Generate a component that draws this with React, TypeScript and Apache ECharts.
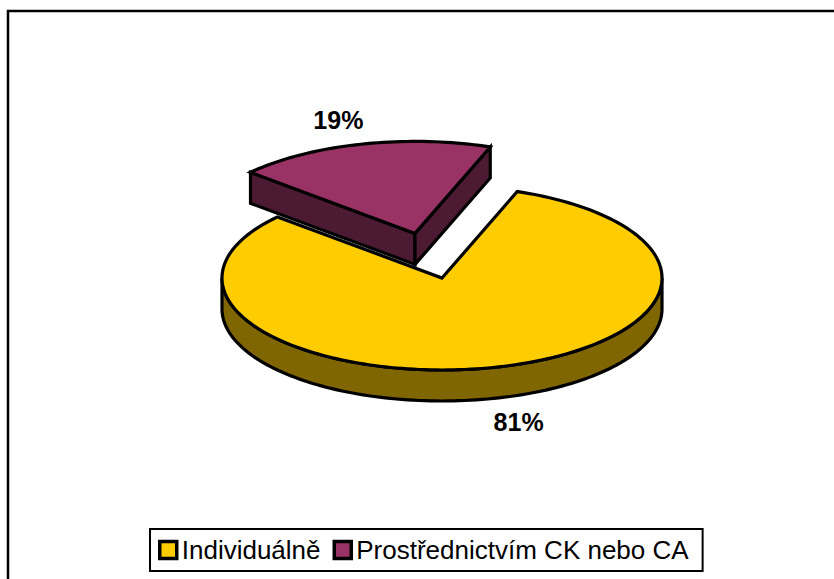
import React, { useEffect, useRef } from "react";
import * as echarts from "echarts";

const categories = ["Individuálně", "Prostřednictvím CK nebo CA"];
const values = [81, 19];
const topColors = ["#FFCC00", "#993366"];
const sideColors = ["#806600", "#4D1A33"];
const explode = [0, 0.5];

const CX = 442;
const CY = 278;
const RX = 220;
const RY = 92;
const DEPTH = 31;
const START_DEG = 70;
const FONT = '"Liberation Sans", Arial, sans-serif';

const rad = (d: number) => (d * Math.PI) / 180;

function buildSlice(i: number) {
  const total = values.reduce((a, b) => a + b, 0);
  let cum = 0;
  for (let k = 0; k < i; k++) cum += values[k];
  const a0 = START_DEG - (cum / total) * 360;
  const a1 = START_DEG - ((cum + values[i]) / total) * 360;
  const m = (a0 + a1) / 2;
  const ox = CX + explode[i] * RX * Math.cos(rad(m));
  const oy = CY - explode[i] * RY * Math.sin(rad(m));
  const P = (deg: number, dz: number) => [
    ox + RX * Math.cos(rad(deg)),
    oy - RY * Math.sin(rad(deg)) + dz,
  ];
  const arc = (from: number, to: number, dz: number) => {
    const n = Math.max(2, Math.ceil(Math.abs(to - from) / 1.5));
    const pts: number[][] = [];
    for (let s = 0; s <= n; s++) pts.push(P(from + ((to - from) * s) / n, dz));
    return pts;
  };
  const stroke = { stroke: "#000", lineWidth: 3.2, lineJoin: "miter" };
  const children: any[] = [];
  // radial faces
  if (Math.cos(rad(a0)) < 0) {
    children.push({
      type: "polygon",
      shape: { points: [[ox, oy], P(a0, 0), P(a0, DEPTH), [ox, oy + DEPTH]] },
      style: { fill: sideColors[i], ...stroke },
    });
  }
  if (Math.cos(rad(a1)) > 0) {
    children.push({
      type: "polygon",
      shape: { points: [[ox, oy], P(a1, 0), P(a1, DEPTH), [ox, oy + DEPTH]] },
      style: { fill: sideColors[i], ...stroke },
    });
  }
  // outer wall (front half)
  for (let k = -3; k <= 3; k++) {
    const lo = Math.max(a1, 180 + 360 * k);
    const hi = Math.min(a0, 360 + 360 * k);
    if (lo < hi) {
      const pts = arc(lo, hi, 0).concat(arc(hi, lo, DEPTH));
      children.push({
        type: "polygon",
        shape: { points: pts },
        style: { fill: sideColors[i], ...stroke },
      });
    }
  }
  // top face
  children.push({
    type: "polygon",
    shape: { points: [[ox, oy]].concat(arc(a0, a1, 0)) },
    style: { fill: topColors[i], ...stroke },
  });
  // label
  const sm = Math.sin(rad(m));
  const lx = ox + RX * 1.42 * Math.cos(rad(m));
  const ly = oy - RY * 1.27 * sm + (sm < 0 ? DEPTH : 0);
  children.push({
    type: "text",
    style: {
      x: lx,
      y: ly,
      text: Math.round((values[i] / total) * 100) + "%",
      font: "bold 25px " + FONT,
      fill: "#000",
      align: "center",
      verticalAlign: "middle",
    },
  });
  return { type: "group", children };
}

export default function App() {
  const ref = useRef<HTMLDivElement>(null);
  useEffect(() => {
    if (!ref.current) return;
    const chart = echarts.init(ref.current, null, { renderer: "svg" });
    const drawOrder = [1, 0];
    chart.setOption({
      animation: false,
      backgroundColor: "#fff",
      graphic: [
        {
          type: "rect",
          silent: true,
          shape: { x: 8, y: 11, width: 900, height: 700 },
          style: { fill: "none", stroke: "#000", lineWidth: 2.5 },
        },
      ],
      legend: {
        data: categories,
        left: 150,
        top: 529,
        orient: "horizontal",
        borderColor: "#000",
        borderWidth: 2,
        borderRadius: 0,
        padding: [8, 14, 8, 8],
        itemGap: 12,
        itemWidth: 17,
        itemHeight: 17,
        icon: "rect",
        itemStyle: { borderColor: "#000", borderWidth: 3.5 },
        textStyle: { fontSize: 26, color: "#000", fontFamily: FONT },
        selectedMode: false,
      },
      series: drawOrder.map((i, z) => ({
        type: "custom",
        name: categories[i],
        coordinateSystem: "none",
        z: 2 + z,
        silent: true,
        itemStyle: { color: topColors[i] },
        data: [values[i]],
        renderItem: () => buildSlice(i),
      })),
    });
    return () => chart.dispose();
  }, []);
  return (
    <div
      ref={ref}
      style={{ position: "absolute", left: 0, top: 0, width: 834, height: 579 }}
    />
  );
}
